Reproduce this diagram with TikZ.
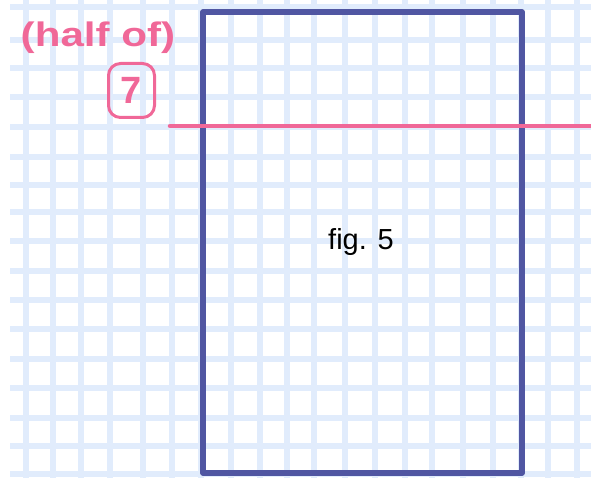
\documentclass[tikz,border=0pt]{standalone}
\usepackage{fontspec}
\setmainfont{Liberation Sans}
\usepackage{xcolor}
\definecolor{gridblue}{RGB}{225,236,252}
\definecolor{gridedge}{RGB}{212,216,224}
\definecolor{frameink}{RGB}{80,86,162}
\definecolor{pinkink}{RGB}{240,104,152}
\newcommand{\fFiveSize}[1]{\fontsize{#1}{#1}\selectfont}

\begin{document}
\begin{tikzpicture}[x=1pt,y=-1pt,
  gridrule/.style={draw=gridblue, line width=5.5pt, preaction={draw=gridedge, line width=6.6pt}},
  frameline/.style={draw=frameink, line width=5.5pt, line join=round, line cap=round},
  pinkrule/.style={draw=pinkink, line width=4.5pt, line cap=round},
  pinkhand/.style={text=pinkink, font={\bfseries\fFiveSize{34}}, inner sep=0pt}]
\useasboundingbox (0,0) rectangle (591,478);
% graph paper
\draw[gridrule]
  (26,0) -- (26,478) (53,0) -- (53,478) (81,0) -- (81,478) (110,0) -- (110,478)
  (143,0) -- (143,478) (172,0) -- (172,478) (201,0) -- (201,478) (231,0) -- (231,478)
  (260,0) -- (260,478) (287,0) -- (287,478) (314,0) -- (314,478) (345,0) -- (345,478)
  (375,0) -- (375,478) (405,0) -- (405,478) (432,0) -- (432,478) (463,0) -- (463,478)
  (493,0) -- (493,478) (521,0) -- (521,478) (548,0) -- (548,478) (577,0) -- (577,478)
  (10,7) -- (591,7) (10,40) -- (591,40) (10,68) -- (591,68) (10,97) -- (591,97)
  (10,127) -- (591,127) (10,157) -- (591,157) (10,185) -- (591,185) (10,212) -- (591,212)
  (10,241) -- (591,241) (10,271) -- (591,271) (10,300) -- (591,300) (10,329) -- (591,329)
  (10,359) -- (591,359) (10,388) -- (591,388) (10,418) -- (591,418) (10,446) -- (591,446)
  (10,474) -- (591,474);
% the sheet
\draw[frameline] (203,12) rectangle (522,473);
\node[anchor=base, font={\fFiveSize{29}}, text=black] (figlabel) at (361,250) {fig. 5};
% pink notes
\draw[pinkrule] (170,126) -- (591,126);
\node[pinkhand, anchor=base, xscale=1.24] (halfof) at (98,47) {(half of)};
\node[pinkhand, font={\bfseries\fFiveSize{38}}, draw=pinkink, line width=3pt, rounded corners=12pt,
  minimum width=46pt, minimum height=54pt] (seven) at (131.5,90.5) {7};
\end{tikzpicture}
\end{document}
